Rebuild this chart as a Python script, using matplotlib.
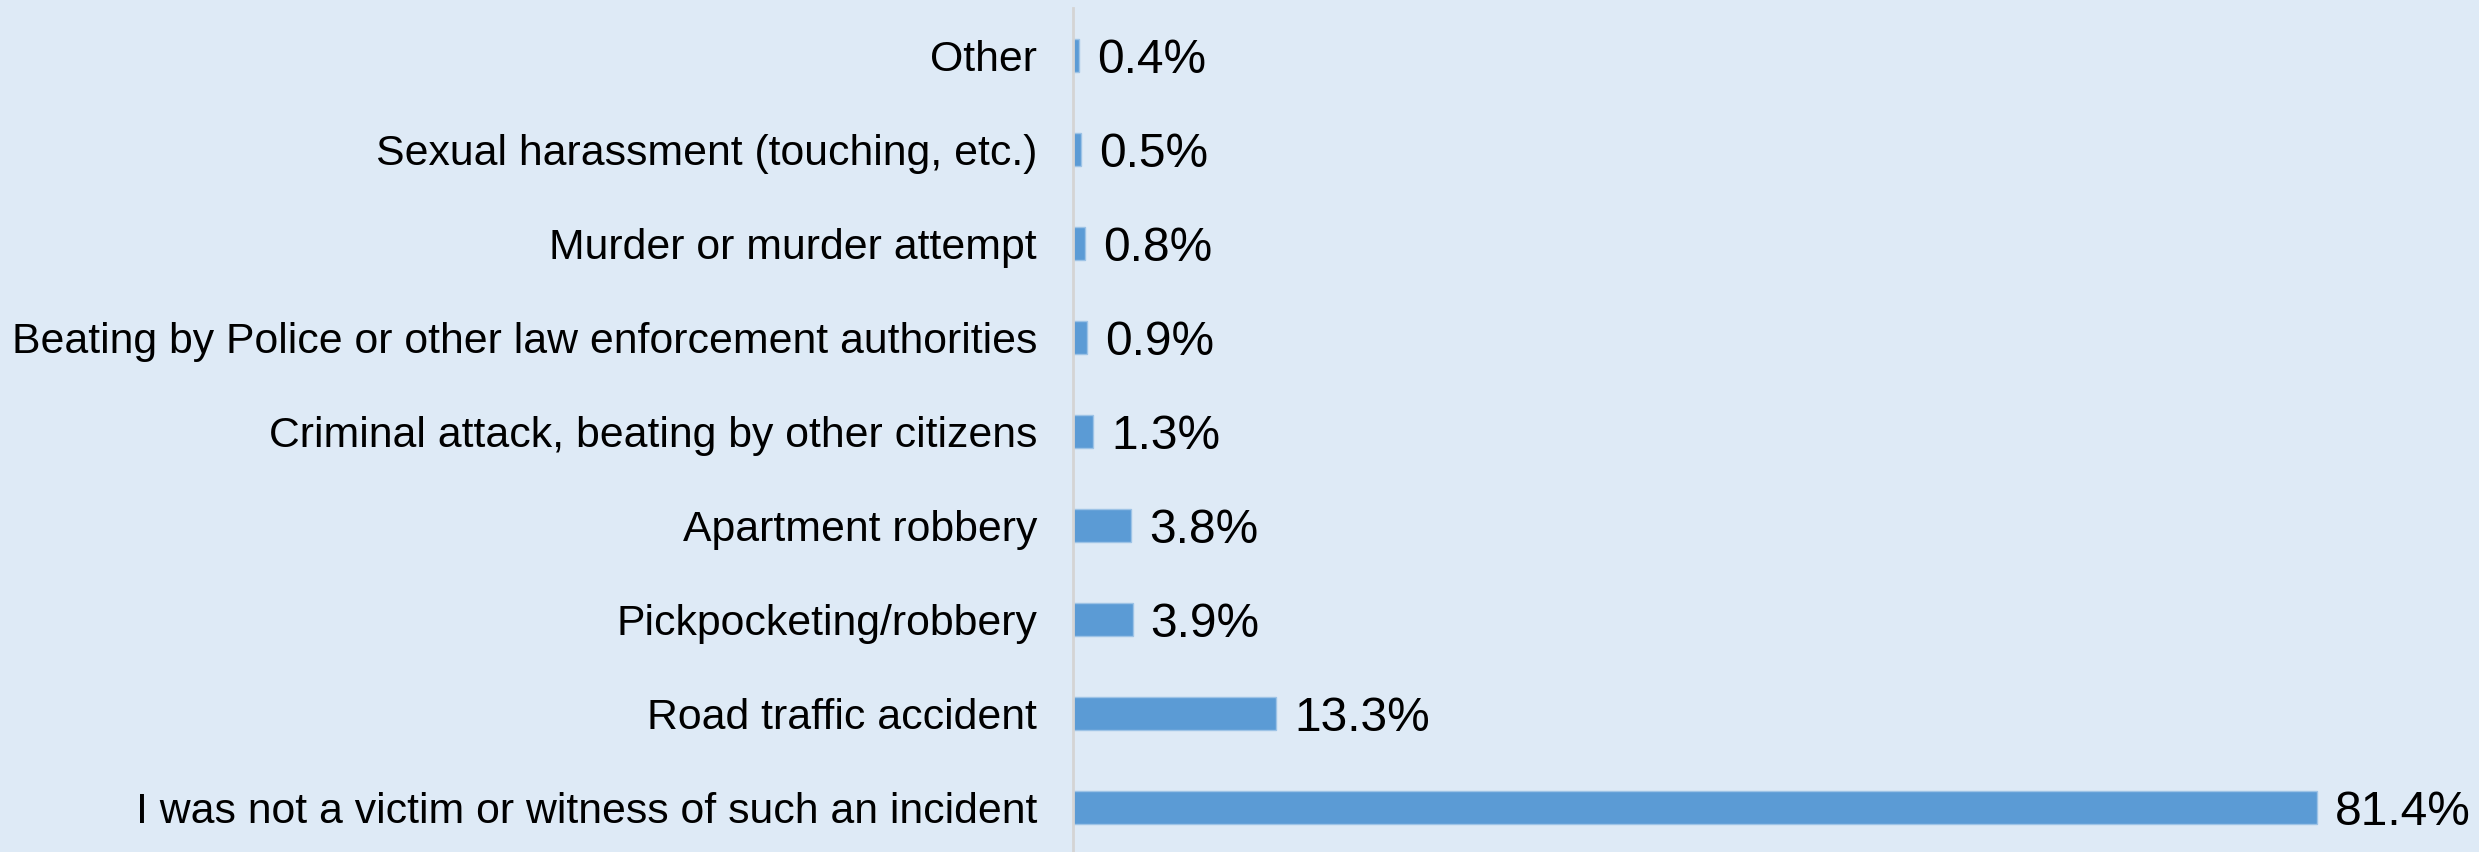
import matplotlib
matplotlib.use('Agg')
import matplotlib.pyplot as plt

categories = ['I was not a victim or witness of such an incident',
              'Road traffic accident',
              'Pickpocketing/robbery',
              'Apartment robbery',
              'Criminal attack, beating by other citizens',
              'Beating by Police or other law enforcement authorities',
              'Murder or murder attempt',
              'Sexual harassment (touching, etc.)',
              'Other']
values = [81.4, 13.3, 3.9, 3.8, 1.3, 0.9, 0.8, 0.5, 0.4]
value_labels = ['81.4%', '13.3%', '3.9%', '3.8%', '1.3%', '0.9%', '0.8%', '0.5%', '0.4%']

plt.rcParams['font.family'] = ['Liberation Sans', 'DejaVu Sans']

bg = '#deeaf6'
fig = plt.figure(figsize=(24.79, 8.52), dpi=100, facecolor=bg)
ax = fig.add_axes([1073 / 2479, 0.0, 1 - 1073 / 2479, 844 / 852])
ax.set_facecolor(bg)

ypos = list(range(len(categories)))
ax.barh(ypos, values, height=0.35, color='#5b9bd5', edgecolor='#9dc3e6', linewidth=1)

# value labels right of each bar
for y, v, lab in zip(ypos, values, value_labels):
    ax.annotate(lab, (v, y), xytext=(13, 0), textcoords='offset points',
                va='center_baseline', ha='left', fontsize=34.5, color='black')

ax.set_xlim(0, 92)
ax.set_ylim(-0.47, 8.5)
ax.set_yticks(ypos)
ax.set_yticklabels(categories, fontsize=30.8)
ax.tick_params(axis='y', length=0, pad=26)
ax.set_xticks([])

for s in ['top', 'right', 'bottom']:
    ax.spines[s].set_visible(False)
ax.spines['left'].set_color('#d4d4d4')
ax.spines['left'].set_linewidth(2)

fig.savefig('out.png', dpi=100, facecolor=bg)
